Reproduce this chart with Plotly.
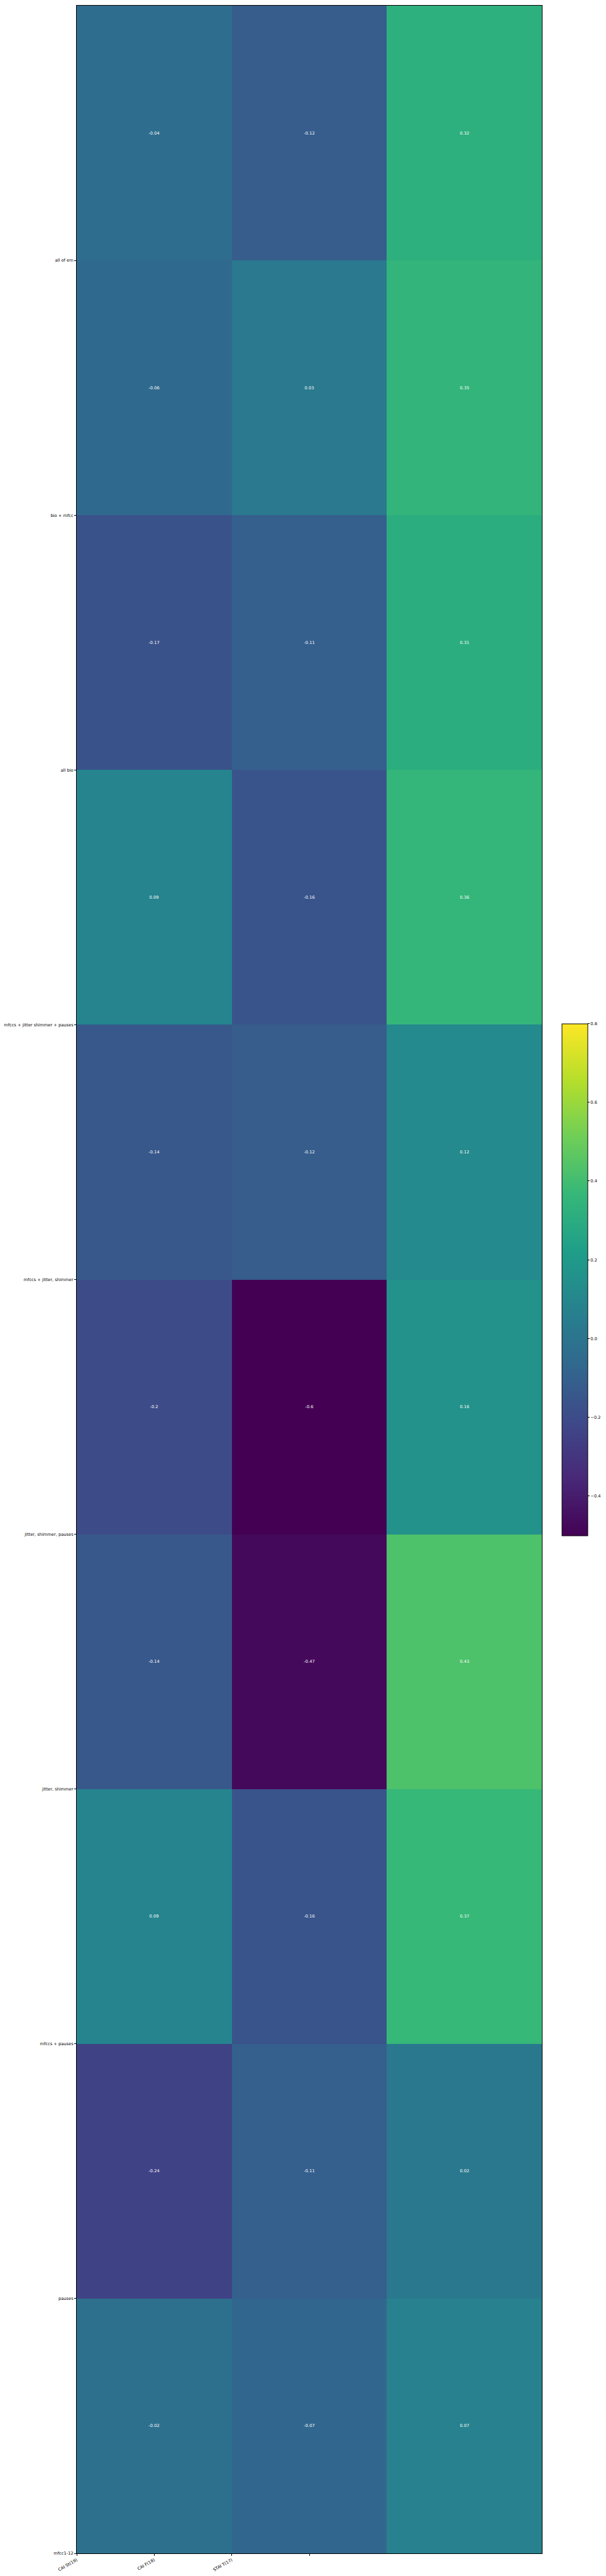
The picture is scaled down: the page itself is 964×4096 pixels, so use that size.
import numpy as np
import plotly.graph_objects as go

# ---- data ----
row_labels = [
    "all of em",
    "bio + mfcc",
    "all bio",
    "mfccs + jitter shimmer + pauses",
    "mfccs + jitter, shimmer",
    "jitter, shimmer, pauses",
    "jitter, shimmer",
    "mfccs + pauses",
    "pauses",
    "mfcc1-12",
]
col_labels = ["CAI St(19)", "CAI F(18)", "STAI T(17)"]

cai_st = [-0.04, -0.06, -0.17, 0.09, -0.14, -0.2, -0.14, 0.09, -0.24, -0.02]
cai_f = [-0.12, 0.03, -0.11, -0.16, -0.12, -0.6, -0.47, -0.16, -0.11, -0.07]
stai_t = [0.32, 0.35, 0.31, 0.36, 0.12, 0.16, 0.43, 0.37, 0.02, 0.07]

cbar_ticks = [-0.4, -0.2, 0.0, 0.2, 0.4, 0.6, 0.8]
z_min, z_max = -0.5, 0.8

# ---- build ----
z = np.array([cai_st, cai_f, stai_t]).T
text = [[f"{v:g}" for v in row] for row in z]
n_rows, n_cols = z.shape
xs = list(range(n_cols))
ys = list(range(n_rows))

FONT = "DejaVu Sans"
fs = 6.7

fig = go.Figure(
    go.Heatmap(
        z=z,
        x=xs,
        y=ys,
        text=text,
        texttemplate="%{text}",
        textfont=dict(family=FONT, size=fs, color="white"),
        colorscale="Viridis",
        zmin=z_min,
        zmax=z_max,
        hoverinfo="skip",
        colorbar=dict(
            thickness=41,
            len=0.201,
            lenmode="fraction",
            y=0.5,
            yanchor="middle",
            x=1.0435,
            xanchor="left",
            xpad=0,
            ypad=0,
            outlinewidth=1,
            outlinecolor="black",
            tickvals=cbar_ticks,
            tickformat=".1f",
            ticks="outside",
            ticklen=3,
            tickwidth=0.7,
            tickcolor="black",
            tickfont=dict(family=FONT, size=fs, color="black"),
        ),
    )
)

# tick positions as in the reference (at cell boundaries / half steps)
x_tickvals = [-0.5 + 0.5 * i for i in range(n_cols + 1)]
x_ticktext = col_labels + [" "]
y_tickvals = [i + 0.5 for i in range(n_rows)]

axis_common = dict(
    ticks="outside",
    ticklen=3,
    tickwidth=0.7,
    tickcolor="black",
    showline=True,
    linecolor="black",
    linewidth=1,
    mirror=True,
    showgrid=False,
    zeroline=False,
    automargin=False,
    tickfont=dict(family=FONT, size=fs, color="black"),
)

fig.update_layout(
    width=964,
    height=4096,
    margin=dict(l=122, r=102, t=9, b=36, autoexpand=False),
    paper_bgcolor="white",
    plot_bgcolor="white",
    font=dict(family=FONT, size=fs, color="black"),
    xaxis=dict(
        range=[-0.5, n_cols - 0.5],
        tickvals=x_tickvals,
        ticktext=x_ticktext,
        tickangle=-30,
        **axis_common,
    ),
    yaxis=dict(
        range=[n_rows - 0.5, -0.5],
        tickvals=y_tickvals,
        ticktext=row_labels,
        **axis_common,
    ),
)

fig.write_html(
    "out.html",
    config={"displayModeBar": False},
    post_script="document.body.style.margin='0px';",
)
